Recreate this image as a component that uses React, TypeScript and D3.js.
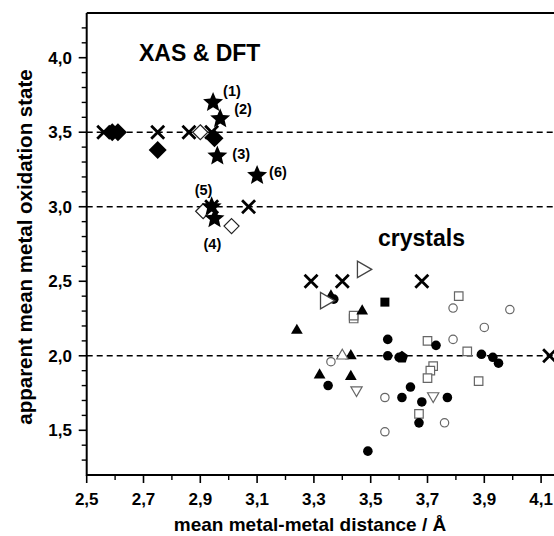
import React from "react";
import * as d3 from "d3";

// ---------- data ----------
const xMajorTicks = [2.5, 2.7, 2.9, 3.1, 3.3, 3.5, 3.7, 3.9, 4.1];
const yMajorTicks = [1.5, 2.0, 2.5, 3.0, 3.5, 4.0];
const dashedLevels = [2.0, 3.0, 3.5];

type P = [number, number];

// XAS & DFT group
const crosses: P[] = [
  [2.56, 3.5], [2.75, 3.5], [2.86, 3.5], [2.94, 3.5], [2.94, 3.0], [3.07, 3.0],
  [3.29, 2.5], [3.40, 2.5], [3.68, 2.5], [4.13, 2.0],
];
const filledDiamonds: P[] = [[2.59, 3.5], [2.61, 3.5], [2.75, 3.38], [2.95, 3.46]];
const openDiamonds: P[] = [[2.90, 3.5], [2.91, 2.97], [3.01, 2.87]];
const stars: P[] = [[2.945, 3.70], [2.97, 3.59], [2.96, 3.34], [3.10, 3.21], [2.94, 3.0], [2.95, 2.92]];
const starLabels = ["(1)", "(2)", "(3)", "(6)", "(5)", "(4)"];

// crystals group
const openRightTriangles: P[] = [[3.47, 2.58], [3.34, 2.37]];
const filledTriangles: P[] = [[3.36, 2.40], [3.47, 2.30], [3.24, 2.17], [3.43, 2.0], [3.32, 1.87], [3.43, 1.86]];
const openTriangles: P[] = [[3.40, 2.0]];
const openDownTriangles: P[] = [[3.45, 1.77], [3.72, 1.73]];
const filledSquares: P[] = [[3.55, 2.36]];
const openSquares: P[] = [
  [3.44, 2.25], [3.44, 2.27], [3.81, 2.40], [3.70, 2.10], [3.84, 2.03],
  [3.72, 1.93], [3.71, 1.90], [3.70, 1.85], [3.88, 1.83], [3.67, 1.61],
];
const openCircles: P[] = [
  [3.36, 1.96], [3.55, 1.72], [3.55, 1.49], [3.79, 2.32], [3.99, 2.31],
  [3.90, 2.19], [3.79, 2.11], [3.76, 1.55],
];
const filledCircles: P[] = [
  [3.37, 2.38], [3.56, 2.11], [3.56, 2.0], [3.60, 1.99], [3.35, 1.80], [3.73, 2.07],
  [3.89, 2.01], [3.93, 1.99], [3.95, 1.95], [3.64, 1.79], [3.61, 1.72], [3.77, 1.72],
  [3.68, 1.69], [3.67, 1.55], [3.49, 1.36],
];
const filledPentagons: P[] = [[3.61, 1.99]];

// ---------- layout ----------
const W = 554;
const H = 536;
const FONT = "'Liberation Sans', Arial, Helvetica, sans-serif";
const x = d3.scaleLinear().domain([2.5, 4.15]).range([86.7, 555.3]);
const y = d3.scaleLinear().domain([1.2, 4.3]).range([475, 13]);
const labelOffsets = [[10, -6], [14, -5], [15, 3], [12, 2], [-17, -12], [-11, 30]];

function polygon(n: number, r: number, rot: number) {
  const pts: [number, number][] = d3.range(n).map((i) => {
    const a = rot + (i * 2 * Math.PI) / n;
    return [r * Math.cos(a), r * Math.sin(a)];
  });
  return (d3.line()(pts) || "") + "Z";
}
function starShape(R: number, ratio: number) {
  const pts: [number, number][] = d3.range(10).map((i) => {
    const a = -Math.PI / 2 + (i * Math.PI) / 5;
    const r = i % 2 === 0 ? R : R * ratio;
    return [r * Math.cos(a), r * Math.sin(a)];
  });
  return (d3.line()(pts) || "") + "Z";
}
const crossPath = (r: number) => `M${-r},${-r}L${r},${r}M${-r},${r}L${r},${-r}`;
const diamondPath = (r: number) => polygon(4, r, -Math.PI / 2);
const triUp = (r: number) => polygon(3, r, -Math.PI / 2);
const triDown = (r: number) => polygon(3, r, Math.PI / 2);
const triRight = (r: number) => polygon(3, r, 0);
const squarePath = (s: number) => `M${-s / 2},${-s / 2}h${s}v${s}h${-s}Z`;
const pentagon = (r: number) => polygon(5, r, -Math.PI / 2);

function Marks({ data, d, fill, stroke, sw }: { data: P[]; d: string; fill: string; stroke: string; sw: number }) {
  return (
    <g>
      {data.map((p, i) => (
        <path key={i} d={d} transform={`translate(${x(p[0])},${y(p[1])})`} fill={fill} stroke={stroke} strokeWidth={sw} strokeLinejoin="miter" />
      ))}
    </g>
  );
}

export default function App() {
  const x0 = x(2.5);
  const yb = y(1.2);
  const yt = y(4.3);
  const xMinor = d3.range(26, 42).map((v) => v / 10).filter((v) => !xMajorTicks.some((m) => Math.abs(m - v) < 1e-6));
  const yMinor = d3.range(13, 43).map((v) => v / 10).filter((v) => !yMajorTicks.some((m) => Math.abs(m - v) < 1e-6));
  const gray = "#666";
  return (
    <svg width={W} height={H} style={{ position: "absolute", left: 0, top: 0, background: "#fff" }} fontFamily={FONT}>
      <rect width={W} height={H} fill="#fff" />
      {/* dashed reference lines */}
      {dashedLevels.map((v) => (
        <line key={v} x1={x0} x2={W} y1={y(v)} y2={y(v)} stroke="#000" strokeWidth={1.5} strokeDasharray="6,4" />
      ))}
      {/* frame */}
      <line x1={x0} x2={W + 5} y1={yt} y2={yt} stroke="#000" strokeWidth={2} />
      <line x1={x(4.15)} x2={x(4.15)} y1={yt} y2={yb} stroke="#000" strokeWidth={2} />
      <line x1={x0} x2={W + 5} y1={yb} y2={yb} stroke="#000" strokeWidth={2} />
      <line x1={x0} x2={x0} y1={yt} y2={yb + 1} stroke="#000" strokeWidth={2} />
      {/* x ticks */}
      {xMajorTicks.map((v) => (
        <g key={v}>
          <line x1={x(v)} x2={x(v)} y1={yb} y2={yb + 8} stroke="#000" strokeWidth={1.6} />
          <text x={x(v)} y={504.5} textAnchor="middle" fontSize={17} fontWeight="bold">
            {d3.format(".1f")(v).replace(".", ",")}
          </text>
        </g>
      ))}
      {xMinor.map((v) => (
        <line key={v} x1={x(v)} x2={x(v)} y1={yb} y2={yb + 5} stroke="#000" strokeWidth={1.4} />
      ))}
      {/* y ticks */}
      {yMajorTicks.map((v) => (
        <g key={v}>
          <line x1={x0 - 8} x2={x0} y1={y(v)} y2={y(v)} stroke="#000" strokeWidth={1.6} />
          <text x={72} y={y(v)} dy="0.36em" textAnchor="end" fontSize={17} fontWeight="bold">
            {d3.format(".1f")(v).replace(".", ",")}
          </text>
        </g>
      ))}
      {yMinor.map((v) => (
        <line key={v} x1={x0 - 5} x2={x0} y1={y(v)} y2={y(v)} stroke="#000" strokeWidth={1.4} />
      ))}
      {/* axis titles */}
      <text x={310} y={531} textAnchor="middle" fontSize={19} fontWeight="bold">
        mean metal-metal distance / Å
      </text>
      <text transform="translate(32,247) rotate(-90)" textAnchor="middle" fontSize={20.5} fontWeight="bold">
        apparent mean metal oxidation state
      </text>
      {/* group labels */}
      <text x={139} y={61} fontSize={23} fontWeight="bold">XAS &amp; DFT</text>
      <text x={378} y={246} fontSize={23} fontWeight="bold">crystals</text>

      {/* crystals */}
      <Marks data={openCircles} d={d3.symbol(d3.symbolCircle, 55)() || ""} fill="#fff" stroke={gray} sw={1.2} />
      <Marks data={openSquares} d={squarePath(8.5)} fill="#fff" stroke={gray} sw={1.2} />
      <Marks data={filledCircles} d={d3.symbol(d3.symbolCircle, 72)() || ""} fill="#000" stroke="none" sw={0} />
      <Marks data={filledPentagons} d={pentagon(6.5)} fill="#000" stroke="none" sw={0} />
      <Marks data={filledSquares} d={squarePath(9)} fill="#000" stroke="none" sw={0} />
      <Marks data={filledTriangles} d={triUp(6.8)} fill="#000" stroke="none" sw={0} />
      <Marks data={openTriangles} d={triUp(6.5)} fill="#fff" stroke={gray} sw={1.2} />
      <Marks data={openDownTriangles} d={triDown(6.5)} fill="#fff" stroke={gray} sw={1.2} />
      <Marks data={openRightTriangles} d={triRight(9.5)} fill="#fff" stroke="#444" sw={1.3} />

      {/* XAS & DFT */}
      <Marks data={crosses} d={crossPath(6.5)} fill="none" stroke="#000" sw={2.8} />
      <Marks data={openDiamonds} d={diamondPath(7.5)} fill="#fff" stroke="#222" sw={1.2} />
      <Marks data={filledDiamonds} d={diamondPath(9)} fill="#000" stroke="none" sw={0} />
      <Marks data={stars} d={starShape(10.5, 0.45)} fill="#000" stroke="none" sw={0} />
      {stars.map((p, i) => (
        <text key={i} x={x(p[0]) + labelOffsets[i][0]} y={y(p[1]) + labelOffsets[i][1]} fontSize={14.5} fontWeight="bold">
          {starLabels[i]}
        </text>
      ))}
    </svg>
  );
}
